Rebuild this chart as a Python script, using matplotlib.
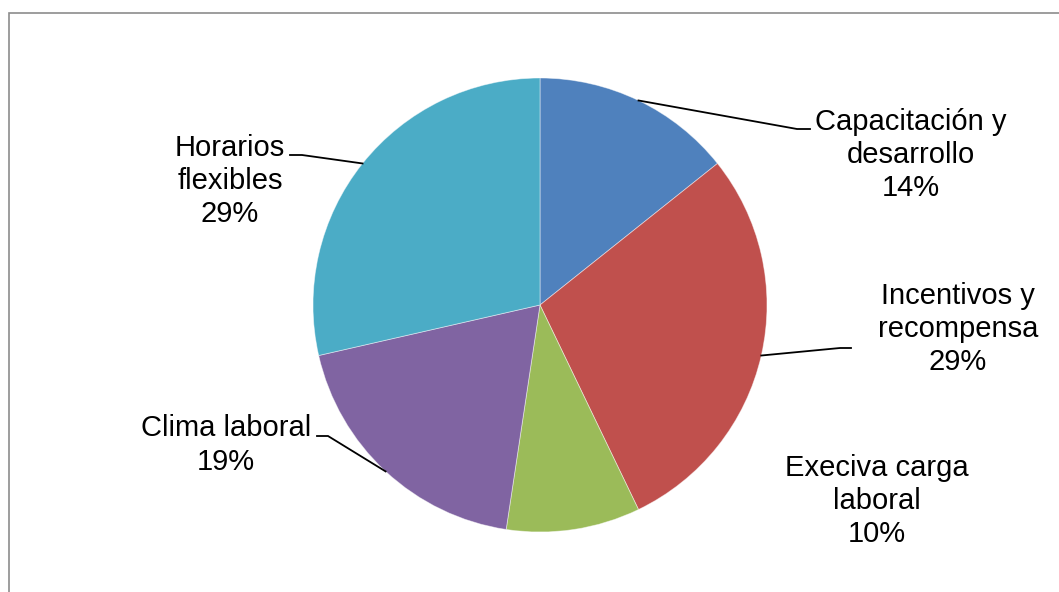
import numpy as np
import matplotlib
matplotlib.use("Agg")
import matplotlib.pyplot as plt
from matplotlib.patches import Rectangle

categories = ["Capacitación y\ndesarrollo", "Incentivos y\nrecompensa",
              "Execiva carga\nlaboral", "Clima laboral", "Horarios\nflexibles"]
values = [3, 6, 2, 4, 6]
colors = ["#4F81BD", "#C0504D", "#9BBB59", "#8064A2", "#4BACC6"]

# label layout in pixel space (x, y from top), text side of leader, elbow
label_pos = [(911, 155), (958, 329), (877, 501), (226, 445), (230, 181)]
leader_end = [(810, 129), (851, 348), None, (317, 436), (290, 155)]
leader_elbow = [(797, 129), (840, 348), None, (328, 436), (302, 155)]

W, H = 1059, 592
plt.rcParams['font.family'] = ['Liberation Sans', 'DejaVu Sans']

fig = plt.figure(figsize=(W / 100, H / 100), dpi=100)
ax = fig.add_axes([0, 0, 1, 1])
ax.set_xlim(0, W)
ax.set_ylim(0, H)
ax.set_aspect('equal')
ax.axis('off')

# chart area frame (runs off the right/bottom edge)
ax.add_patch(Rectangle((8.5, -5), W + 10, H - 12.5 + 5, fill=False,
                       edgecolor='#8c8c8c', linewidth=1.2))

cx, cy, r = 540, H - 305, 227
ax.pie(values, colors=colors, startangle=90, counterclock=False,
       center=(cx, cy), radius=r, frame=True,
       wedgeprops=dict(linewidth=0.6, edgecolor='#ffffff80'))
ax.set_xlim(0, W)
ax.set_ylim(0, H)
ax.axis('off')

total = sum(values)
cum = np.cumsum([0] + values[:-1])
for i, (cat, v) in enumerate(zip(categories, values)):
    pct = round(v / total * 100)
    lx, ly = label_pos[i]
    ax.text(lx, H - ly, f"{cat}\n{pct}%", ha='center', va='center',
            fontsize=21, linespacing=1.25, color='black')
    if leader_end[i] is not None:
        # leader starts on the rim at the slice's mid-angle
        frac = (cum[i] + v / 2) / total
        theta = np.radians(90 - frac * 360)
        sx, sy = cx + r * np.cos(theta), cy + r * np.sin(theta)
        ex, ey = leader_elbow[i]
        tx, ty = leader_end[i]
        ax.plot([sx, ex, tx], [sy, H - ey, H - ty], color='black', lw=1.3,
                solid_joinstyle='miter')

fig.savefig("out.png", dpi=100, facecolor='white')
